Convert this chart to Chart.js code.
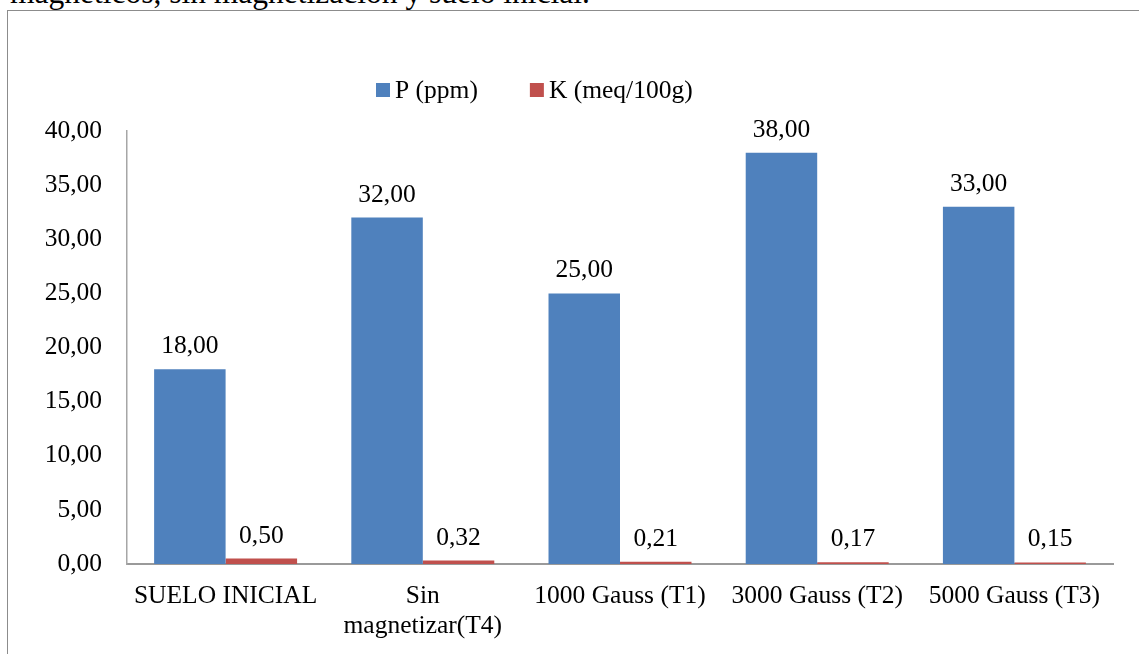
<!DOCTYPE html>
<html>
<head>
<meta charset="utf-8">
<script src="https://cdn.jsdelivr.net/npm/chart.js@4.4.1/dist/chart.umd.min.js"></script>
<style>
  html, body { margin: 0; padding: 0; background: #fff; }
  body { width: 1139px; height: 654px; position: relative; overflow: hidden; }
  #caption {
    position: absolute; left: 10px; top: -23.5px;
    font: 31.5px "Liberation Serif", "Times New Roman", serif;
    line-height: 31px; white-space: nowrap; color: #000;
  }
  #frame {
    position: absolute; left: 7px; top: 10px; right: -5px; bottom: -5px;
    border-left: 1px solid #8c8c8c; border-top: 1px solid #8c8c8c;
  }
  #wrap { position: absolute; left: 0; top: 0; width: 1139px; height: 654px; }
</style>
</head>
<body>
<div id="caption">magnéticos, sin magnetización y suelo inicial.</div>
<div id="frame"></div>
<div id="wrap"><canvas id="chart" width="1139" height="654"></canvas></div>
<script>
const categories = [
  "SUELO INICIAL",
  ["Sin", "magnetizar(T4)"],
  "1000 Gauss (T1)",
  "3000 Gauss (T2)",
  "5000 Gauss (T3)",
];
const fosforo = [18, 32, 25, 38, 33];
const potasio = [0.5, 0.32, 0.21, 0.17, 0.15];
const yTicks = [0, 5, 10, 15, 20, 25, 30, 35, 40];

const SERIF = "'Liberation Serif', 'Times New Roman', serif";
const FONT_SIZE = 25.5;
const font = (extra) => Object.assign({ family: SERIF, size: FONT_SIZE }, extra);

const fmt = (v) => v.toFixed(2).replace(".", ",");

// valores sobre cada barra
const barValues = {
  id: "barValues",
  afterDatasetsDraw(chart) {
    const ctx = chart.ctx;
    ctx.save();
    ctx.font = `${FONT_SIZE}px ${SERIF}`;
    ctx.fillStyle = "#000";
    ctx.textAlign = "center";
    ctx.textBaseline = "alphabetic";
    chart.data.datasets.forEach((ds, i) => {
      chart.getDatasetMeta(i).data.forEach((bar, j) => {
        ctx.fillText(fmt(ds.data[j]), bar.x, bar.y - 16);
      });
    });
    ctx.restore();
  },
};

// leyenda dibujada a mano: cuadro pequeño pegado al texto
const serieLegend = {
  id: "serieLegend",
  afterDraw(chart, args, opts) {
    const ctx = chart.ctx;
    ctx.save();
    ctx.font = `${FONT_SIZE}px ${SERIF}`;
    ctx.textBaseline = "middle";
    ctx.textAlign = "left";
    let x = opts.x;
    chart.data.datasets.forEach((ds) => {
      ctx.fillStyle = ds.backgroundColor;
      ctx.fillRect(x, opts.y - opts.box / 2, opts.box, opts.box);
      x += opts.box + opts.textGap;
      ctx.fillStyle = "#000";
      ctx.fillText(ds.label, x, opts.y + 1);
      x += ctx.measureText(ds.label).width + opts.itemGap;
    });
    ctx.restore();
  },
};

new Chart(document.getElementById("chart").getContext("2d"), {
  type: "bar",
  data: {
    labels: categories,
    datasets: [
      {
        label: "P (ppm)",
        data: fosforo,
        backgroundColor: "#4F81BD",
        categoryPercentage: 0.725,
        barPercentage: 1,
      },
      {
        label: "K (meq/100g)",
        data: potasio,
        backgroundColor: "#C0504D",
        categoryPercentage: 0.725,
        barPercentage: 1,
      },
    ],
  },
  options: {
    responsive: false,
    animation: false,
    layout: { padding: { top: 131, right: 26, bottom: 0, left: 0 } },
    plugins: {
      legend: { display: false },
      tooltip: { enabled: false },
      serieLegend: { x: 376, y: 90, box: 14, textGap: 5, itemGap: 52 },
    },
    scales: {
      x: {
        grid: { display: false, drawTicks: false },
        border: { color: "#9a9a9a", width: 2 },
        ticks: {
          color: "#000",
          padding: 18,
          maxRotation: 0,
          autoSkip: false,
          font: font({ lineHeight: 1.15 }),
        },
        afterFit(scale) {
          scale.height = 90;
        },
      },
      y: {
        min: 0,
        max: 40,
        grid: { display: false, drawTicks: false },
        border: { color: "#a6a6a6", width: 1.5 },
        afterBuildTicks(scale) {
          scale.ticks = yTicks.map((v) => ({ value: v }));
        },
        ticks: {
          color: "#000",
          padding: 25,
          font: font(),
          callback: (v) => fmt(v),
        },
        afterFit(scale) {
          scale.width = 127;
        },
      },
    },
  },
  plugins: [barValues, serieLegend],
});
</script>
</body>
</html>
